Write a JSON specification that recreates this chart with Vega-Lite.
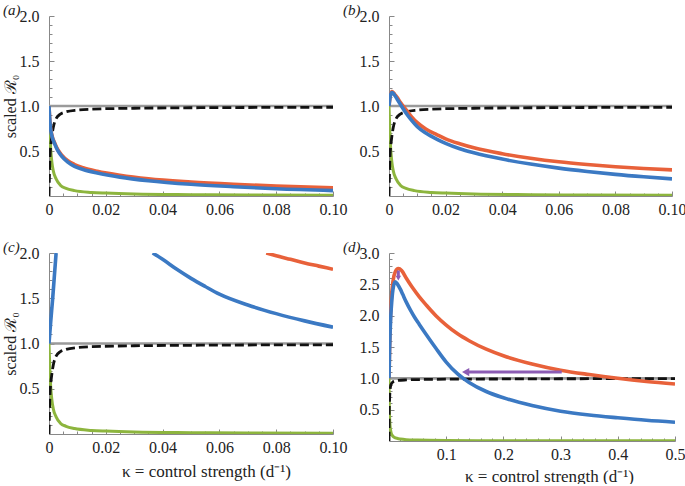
{
  "$schema": "https://vega.github.io/schema/vega-lite/v6.json",
  "padding": {"left": 2, "top": 3, "right": 0, "bottom": 0},
  "background": "white",
  "config": {
    "view": {"stroke": null},
    "font": "Liberation Serif",
    "axis": {
      "grid": false,
      "labelFont": "Liberation Serif",
      "labelFontSize": 16,
      "labelColor": "#222222",
      "labelFlush": false,
      "labelOverlap": false,
      "labelBound": false,
      "domainColor": "#888888",
      "domainWidth": 1,
      "tickColor": "#888888",
      "tickWidth": 1,
      "titleFont": "Liberation Serif",
      "titleFontSize": 16,
      "titleFontWeight": "normal",
      "titleColor": "#222222"
    },
    "line": {"interpolate": "monotone"}
  },
  "datasets": {
    "base01": [
      {"s": "gray", "k": 0, "v": 1}, {"s": "gray", "k": 0.1, "v": 1},
      {"s": "black", "k": 0, "v": 0}, {"s": "black", "k": 0.0003, "v": 0.4}, {"s": "black", "k": 0.0007, "v": 0.58}, {"s": "black", "k": 0.001, "v": 0.66}, {"s": "black", "k": 0.0015, "v": 0.76}, {"s": "black", "k": 0.0025, "v": 0.86}, {"s": "black", "k": 0.004, "v": 0.91}, {"s": "black", "k": 0.006, "v": 0.935}, {"s": "black", "k": 0.01, "v": 0.955}, {"s": "black", "k": 0.015, "v": 0.965}, {"s": "black", "k": 0.03, "v": 0.975}, {"s": "black", "k": 0.06, "v": 0.982}, {"s": "black", "k": 0.1, "v": 0.986},
      {"s": "green", "k": 0, "v": 1}, {"s": "green", "k": 0.0003, "v": 0.72}, {"s": "green", "k": 0.0006, "v": 0.52}, {"s": "green", "k": 0.001, "v": 0.38}, {"s": "green", "k": 0.0015, "v": 0.28}, {"s": "green", "k": 0.0025, "v": 0.19}, {"s": "green", "k": 0.004, "v": 0.12}, {"s": "green", "k": 0.006, "v": 0.085}, {"s": "green", "k": 0.009, "v": 0.06}, {"s": "green", "k": 0.015, "v": 0.04}, {"s": "green", "k": 0.02, "v": 0.032}, {"s": "green", "k": 0.03, "v": 0.022}, {"s": "green", "k": 0.05, "v": 0.015}, {"s": "green", "k": 0.07, "v": 0.011}, {"s": "green", "k": 0.1, "v": 0.008}
    ],
    "base05": [
      {"s": "gray", "k": 0, "v": 1}, {"s": "gray", "k": 0.5, "v": 1},
      {"s": "black", "k": 0, "v": 0}, {"s": "black", "k": 0.0003, "v": 0.4}, {"s": "black", "k": 0.0007, "v": 0.58}, {"s": "black", "k": 0.001, "v": 0.66}, {"s": "black", "k": 0.0015, "v": 0.76}, {"s": "black", "k": 0.0025, "v": 0.86}, {"s": "black", "k": 0.004, "v": 0.91}, {"s": "black", "k": 0.006, "v": 0.935}, {"s": "black", "k": 0.01, "v": 0.955}, {"s": "black", "k": 0.015, "v": 0.965}, {"s": "black", "k": 0.03, "v": 0.975}, {"s": "black", "k": 0.06, "v": 0.982}, {"s": "black", "k": 0.1, "v": 0.986}, {"s": "black", "k": 0.2, "v": 0.99}, {"s": "black", "k": 0.3, "v": 0.993}, {"s": "black", "k": 0.5, "v": 0.995},
      {"s": "green", "k": 0, "v": 1}, {"s": "green", "k": 0.0003, "v": 0.72}, {"s": "green", "k": 0.0006, "v": 0.52}, {"s": "green", "k": 0.001, "v": 0.38}, {"s": "green", "k": 0.0015, "v": 0.28}, {"s": "green", "k": 0.0025, "v": 0.19}, {"s": "green", "k": 0.004, "v": 0.12}, {"s": "green", "k": 0.006, "v": 0.085}, {"s": "green", "k": 0.009, "v": 0.06}, {"s": "green", "k": 0.015, "v": 0.04}, {"s": "green", "k": 0.02, "v": 0.032}, {"s": "green", "k": 0.03, "v": 0.022}, {"s": "green", "k": 0.05, "v": 0.015}, {"s": "green", "k": 0.07, "v": 0.011}, {"s": "green", "k": 0.1, "v": 0.008}, {"s": "green", "k": 0.2, "v": 0.005}, {"s": "green", "k": 0.3, "v": 0.004}, {"s": "green", "k": 0.5, "v": 0.003}
    ],
    "a": [
      {"s": "blue", "k": 0, "v": 1}, {"s": "blue", "k": 0.0002, "v": 0.88}, {"s": "blue", "k": 0.0005, "v": 0.76}, {"s": "blue", "k": 0.001, "v": 0.67}, {"s": "blue", "k": 0.002, "v": 0.58}, {"s": "blue", "k": 0.003, "v": 0.51}, {"s": "blue", "k": 0.0045, "v": 0.44}, {"s": "blue", "k": 0.0065, "v": 0.38}, {"s": "blue", "k": 0.009, "v": 0.33}, {"s": "blue", "k": 0.012, "v": 0.295}, {"s": "blue", "k": 0.017, "v": 0.256}, {"s": "blue", "k": 0.025, "v": 0.21}, {"s": "blue", "k": 0.035, "v": 0.17}, {"s": "blue", "k": 0.05, "v": 0.13}, {"s": "blue", "k": 0.065, "v": 0.103}, {"s": "blue", "k": 0.08, "v": 0.08}, {"s": "blue", "k": 0.1, "v": 0.06},
      {"s": "orange", "k": 0, "v": 1}, {"s": "orange", "k": 0.0002, "v": 0.88}, {"s": "orange", "k": 0.0005, "v": 0.77}, {"s": "orange", "k": 0.001, "v": 0.68}, {"s": "orange", "k": 0.002, "v": 0.59}, {"s": "orange", "k": 0.003, "v": 0.52}, {"s": "orange", "k": 0.0045, "v": 0.455}, {"s": "orange", "k": 0.0065, "v": 0.395}, {"s": "orange", "k": 0.009, "v": 0.35}, {"s": "orange", "k": 0.012, "v": 0.315}, {"s": "orange", "k": 0.017, "v": 0.275}, {"s": "orange", "k": 0.025, "v": 0.23}, {"s": "orange", "k": 0.035, "v": 0.19}, {"s": "orange", "k": 0.05, "v": 0.155}, {"s": "orange", "k": 0.065, "v": 0.13}, {"s": "orange", "k": 0.08, "v": 0.11}, {"s": "orange", "k": 0.1, "v": 0.09}
    ],
    "b": [
      {"s": "blue", "k": 0, "v": 1}, {"s": "blue", "k": 0.0003, "v": 1.08}, {"s": "blue", "k": 0.0006, "v": 1.13}, {"s": "blue", "k": 0.001, "v": 1.15}, {"s": "blue", "k": 0.0015, "v": 1.14}, {"s": "blue", "k": 0.002, "v": 1.12}, {"s": "blue", "k": 0.003, "v": 1.07}, {"s": "blue", "k": 0.004, "v": 1.02}, {"s": "blue", "k": 0.005, "v": 0.97}, {"s": "blue", "k": 0.0065, "v": 0.9}, {"s": "blue", "k": 0.008, "v": 0.84}, {"s": "blue", "k": 0.01, "v": 0.77}, {"s": "blue", "k": 0.013, "v": 0.7}, {"s": "blue", "k": 0.017, "v": 0.63}, {"s": "blue", "k": 0.02, "v": 0.585}, {"s": "blue", "k": 0.025, "v": 0.525}, {"s": "blue", "k": 0.03, "v": 0.48}, {"s": "blue", "k": 0.04, "v": 0.41}, {"s": "blue", "k": 0.05, "v": 0.355}, {"s": "blue", "k": 0.06, "v": 0.31}, {"s": "blue", "k": 0.07, "v": 0.273}, {"s": "blue", "k": 0.08, "v": 0.24}, {"s": "blue", "k": 0.09, "v": 0.213}, {"s": "blue", "k": 0.1, "v": 0.19},
      {"s": "orange", "k": 0, "v": 1}, {"s": "orange", "k": 0.0003, "v": 1.08}, {"s": "orange", "k": 0.0006, "v": 1.13}, {"s": "orange", "k": 0.001, "v": 1.16}, {"s": "orange", "k": 0.0015, "v": 1.15}, {"s": "orange", "k": 0.002, "v": 1.13}, {"s": "orange", "k": 0.003, "v": 1.09}, {"s": "orange", "k": 0.004, "v": 1.04}, {"s": "orange", "k": 0.005, "v": 1.0}, {"s": "orange", "k": 0.0065, "v": 0.94}, {"s": "orange", "k": 0.008, "v": 0.88}, {"s": "orange", "k": 0.01, "v": 0.815}, {"s": "orange", "k": 0.013, "v": 0.745}, {"s": "orange", "k": 0.017, "v": 0.68}, {"s": "orange", "k": 0.02, "v": 0.635}, {"s": "orange", "k": 0.025, "v": 0.58}, {"s": "orange", "k": 0.03, "v": 0.535}, {"s": "orange", "k": 0.04, "v": 0.47}, {"s": "orange", "k": 0.05, "v": 0.42}, {"s": "orange", "k": 0.06, "v": 0.38}, {"s": "orange", "k": 0.07, "v": 0.35}, {"s": "orange", "k": 0.08, "v": 0.325}, {"s": "orange", "k": 0.09, "v": 0.305}, {"s": "orange", "k": 0.1, "v": 0.29}
    ],
    "c": [
      {"s": "blue", "g": 1, "k": 0, "v": 1}, {"s": "blue", "g": 1, "k": 0.0006, "v": 1.24}, {"s": "blue", "g": 1, "k": 0.0013, "v": 1.5}, {"s": "blue", "g": 1, "k": 0.0019, "v": 1.75}, {"s": "blue", "g": 1, "k": 0.0025, "v": 2.0},
      {"s": "blue", "g": 2, "k": 0.0365, "v": 2.0}, {"s": "blue", "g": 2, "k": 0.04, "v": 1.93}, {"s": "blue", "g": 2, "k": 0.045, "v": 1.82}, {"s": "blue", "g": 2, "k": 0.05, "v": 1.72}, {"s": "blue", "g": 2, "k": 0.055, "v": 1.63}, {"s": "blue", "g": 2, "k": 0.06, "v": 1.545}, {"s": "blue", "g": 2, "k": 0.07, "v": 1.425}, {"s": "blue", "g": 2, "k": 0.08, "v": 1.33}, {"s": "blue", "g": 2, "k": 0.09, "v": 1.25}, {"s": "blue", "g": 2, "k": 0.1, "v": 1.18},
      {"s": "orange", "g": 1, "k": 0.0765, "v": 2.0}, {"s": "orange", "g": 1, "k": 0.08, "v": 1.97}, {"s": "orange", "g": 1, "k": 0.085, "v": 1.93}, {"s": "orange", "g": 1, "k": 0.09, "v": 1.89}, {"s": "orange", "g": 1, "k": 0.095, "v": 1.855}, {"s": "orange", "g": 1, "k": 0.1, "v": 1.82}
    ],
    "d": [
      {"s": "blue", "k": 0, "v": 1}, {"s": "blue", "k": 0.001, "v": 1.45}, {"s": "blue", "k": 0.002, "v": 1.75}, {"s": "blue", "k": 0.003, "v": 1.97}, {"s": "blue", "k": 0.005, "v": 2.25}, {"s": "blue", "k": 0.0075, "v": 2.45}, {"s": "blue", "k": 0.011, "v": 2.54}, {"s": "blue", "k": 0.015, "v": 2.5}, {"s": "blue", "k": 0.02, "v": 2.42}, {"s": "blue", "k": 0.024, "v": 2.34}, {"s": "blue", "k": 0.03, "v": 2.22}, {"s": "blue", "k": 0.038, "v": 2.08}, {"s": "blue", "k": 0.045, "v": 1.97}, {"s": "blue", "k": 0.053, "v": 1.86}, {"s": "blue", "k": 0.065, "v": 1.7}, {"s": "blue", "k": 0.082, "v": 1.48}, {"s": "blue", "k": 0.1, "v": 1.26}, {"s": "blue", "k": 0.12, "v": 1.07}, {"s": "blue", "k": 0.14, "v": 0.935}, {"s": "blue", "k": 0.17, "v": 0.79}, {"s": "blue", "k": 0.2, "v": 0.69}, {"s": "blue", "k": 0.25, "v": 0.565}, {"s": "blue", "k": 0.3, "v": 0.475}, {"s": "blue", "k": 0.35, "v": 0.415}, {"s": "blue", "k": 0.4, "v": 0.37}, {"s": "blue", "k": 0.45, "v": 0.33}, {"s": "blue", "k": 0.5, "v": 0.3},
      {"s": "orange", "k": 0, "v": 1}, {"s": "orange", "k": 0.001, "v": 1.5}, {"s": "orange", "k": 0.002, "v": 1.85}, {"s": "orange", "k": 0.004, "v": 2.25}, {"s": "orange", "k": 0.007, "v": 2.55}, {"s": "orange", "k": 0.011, "v": 2.7}, {"s": "orange", "k": 0.0163, "v": 2.75}, {"s": "orange", "k": 0.022, "v": 2.72}, {"s": "orange", "k": 0.03, "v": 2.6}, {"s": "orange", "k": 0.04, "v": 2.46}, {"s": "orange", "k": 0.053, "v": 2.3}, {"s": "orange", "k": 0.065, "v": 2.17}, {"s": "orange", "k": 0.082, "v": 2.0}, {"s": "orange", "k": 0.1, "v": 1.85}, {"s": "orange", "k": 0.12, "v": 1.71}, {"s": "orange", "k": 0.14, "v": 1.6}, {"s": "orange", "k": 0.17, "v": 1.465}, {"s": "orange", "k": 0.2, "v": 1.36}, {"s": "orange", "k": 0.25, "v": 1.23}, {"s": "orange", "k": 0.3, "v": 1.13}, {"s": "orange", "k": 0.35, "v": 1.06}, {"s": "orange", "k": 0.4, "v": 1.0}, {"s": "orange", "k": 0.45, "v": 0.95}, {"s": "orange", "k": 0.5, "v": 0.91}
    ],
    "arrows": [
      {"id": "h", "k": 0.302, "v": 1.1}, {"id": "h", "k": 0.135, "v": 1.1},
      {"id": "v", "k": 0.0163, "v": 2.72}, {"id": "v", "k": 0.0163, "v": 2.63}
    ],
    "heads": [
      {"id": "h", "k": 0.134, "v": 1.1},
      {"id": "v", "k": 0.0163, "v": 2.6}
    ]
  },
  "columns": 2,
  "bounds": "flush",
  "spacing": {"row": 57, "column": 56},
  "concat": [
    {
      "width": 284, "height": 180,
      "title": {"text": "(a)", "font": "Liberation Serif", "fontSize": 15, "fontWeight": "normal", "fontStyle": "italic", "color": "#222222", "anchor": "start", "frame": "group", "offset": 0, "baseline": "middle", "dx": -46, "dy": 17},
      "encoding": {
        "x": {"field": "k", "type": "quantitative", "scale": {"domain": [0, 0.1], "nice": false, "zero": false},
          "axis": {"title": null, "values": [0,0.005,0.01,0.015,0.02,0.025,0.03,0.035,0.04,0.045,0.05,0.055,0.06,0.065,0.07,0.075,0.08,0.085,0.09,0.095,0.1],
            "labelExpr": "round(datum.value*1000) % 20 == 0 ? (datum.value == 0 ? '0' : format(datum.value, '.2f')) : ''",
            "tickSize": {"condition": {"test": "round(datum.value*1000) % 20 == 0", "value": -5}, "value": -3},
            "labelPadding": 10, "labelFont": "Liberation Serif", "labelFontSize": 16}},
        "y": {"field": "v", "type": "quantitative", "scale": {"domain": [0, 2], "nice": false},
          "axis": {"title": "scaled ℛ₀", "titleFont": "Liberation Serif", "titleFontSize": 16, "titleFontWeight": "normal", "titlePadding": 1, "values": [0.1,0.2,0.3,0.4,0.5,0.6,0.7,0.8,0.9,1.0,1.1,1.2,1.3,1.4,1.5,1.6,1.7,1.8,1.9,2.0],
            "labelExpr": "round(datum.value*10) % 5 == 0 ? format(datum.value, '.1f') : ''",
            "tickSize": {"condition": {"test": "round(datum.value*10) % 5 == 0", "value": -5}, "value": -3},
            "labelPadding": 15, "labelFont": "Liberation Serif", "labelFontSize": 16}},
        "detail": {"field": "g", "type": "nominal"}
      },
      "layer": [
        {"data": {"name": "base01"}, "transform": [{"filter": "datum.s == 'gray'"}], "mark": {"type": "line", "color": "#9a9a9a", "strokeWidth": 2.6, "clip": true}},
        {"data": {"name": "base01"}, "transform": [{"filter": "datum.s == 'green'"}], "mark": {"type": "line", "color": "#8db53e", "strokeWidth": 3, "clip": true}},
        {"data": {"name": "base01"}, "transform": [{"filter": "datum.s == 'black'"}], "mark": {"type": "line", "color": "#111111", "strokeWidth": 2.8, "strokeDash": [9, 4], "clip": true}},
        {"data": {"name": "a"}, "transform": [{"filter": "datum.s == 'orange'"}], "mark": {"type": "line", "color": "#e8613a", "strokeWidth": 3.6, "clip": true}},
        {"data": {"name": "a"}, "transform": [{"filter": "datum.s == 'blue'"}], "mark": {"type": "line", "color": "#3b79c3", "strokeWidth": 3.6, "clip": true}}
      ]
    },
    {
      "width": 283, "height": 180,
      "title": {"text": "(b)", "font": "Liberation Serif", "fontSize": 15, "fontWeight": "normal", "fontStyle": "italic", "color": "#222222", "anchor": "start", "frame": "group", "offset": 0, "baseline": "middle", "dx": -46, "dy": 17},
      "encoding": {
        "x": {"field": "k", "type": "quantitative", "scale": {"domain": [0, 0.1], "nice": false, "zero": false},
          "axis": {"title": null, "values": [0,0.005,0.01,0.015,0.02,0.025,0.03,0.035,0.04,0.045,0.05,0.055,0.06,0.065,0.07,0.075,0.08,0.085,0.09,0.095,0.1],
            "labelExpr": "round(datum.value*1000) % 20 == 0 ? (datum.value == 0 ? '0' : format(datum.value, '.2f')) : ''",
            "tickSize": {"condition": {"test": "round(datum.value*1000) % 20 == 0", "value": -5}, "value": -3},
            "labelPadding": 10, "labelFont": "Liberation Serif", "labelFontSize": 16}},
        "y": {"field": "v", "type": "quantitative", "scale": {"domain": [0, 2], "nice": false},
          "axis": {"title": null, "values": [0.1,0.2,0.3,0.4,0.5,0.6,0.7,0.8,0.9,1.0,1.1,1.2,1.3,1.4,1.5,1.6,1.7,1.8,1.9,2.0],
            "labelExpr": "round(datum.value*10) % 5 == 0 ? format(datum.value, '.1f') : ''",
            "tickSize": {"condition": {"test": "round(datum.value*10) % 5 == 0", "value": -5}, "value": -3},
            "labelPadding": 15, "labelFont": "Liberation Serif", "labelFontSize": 16}},
        "detail": {"field": "g", "type": "nominal"}
      },
      "layer": [
        {"data": {"name": "base01"}, "transform": [{"filter": "datum.s == 'gray'"}], "mark": {"type": "line", "color": "#9a9a9a", "strokeWidth": 2.6, "clip": true}},
        {"data": {"name": "base01"}, "transform": [{"filter": "datum.s == 'green'"}], "mark": {"type": "line", "color": "#8db53e", "strokeWidth": 3, "clip": true}},
        {"data": {"name": "base01"}, "transform": [{"filter": "datum.s == 'black'"}], "mark": {"type": "line", "color": "#111111", "strokeWidth": 2.8, "strokeDash": [9, 4], "clip": true}},
        {"data": {"name": "b"}, "transform": [{"filter": "datum.s == 'orange'"}], "mark": {"type": "line", "color": "#e8613a", "strokeWidth": 3.6, "clip": true}},
        {"data": {"name": "b"}, "transform": [{"filter": "datum.s == 'blue'"}], "mark": {"type": "line", "color": "#3b79c3", "strokeWidth": 3.6, "clip": true}}
      ]
    },
    {
      "width": 284, "height": 181,
      "title": {"text": "(c)", "font": "Liberation Serif", "fontSize": 15, "fontWeight": "normal", "fontStyle": "italic", "color": "#222222", "anchor": "start", "frame": "group", "offset": 0, "baseline": "middle", "dx": -46, "dy": 17},
      "encoding": {
        "x": {"field": "k", "type": "quantitative", "scale": {"domain": [0, 0.1], "nice": false, "zero": false},
          "axis": {"title": "κ = control strength (d⁻¹)", "titleFont": "Liberation Serif", "titleFontSize": 17, "titleFontWeight": "normal", "titlePadding": 6, "titleX": 157, "values": [0,0.005,0.01,0.015,0.02,0.025,0.03,0.035,0.04,0.045,0.05,0.055,0.06,0.065,0.07,0.075,0.08,0.085,0.09,0.095,0.1],
            "labelExpr": "round(datum.value*1000) % 20 == 0 ? (datum.value == 0 ? '0' : format(datum.value, '.2f')) : ''",
            "tickSize": {"condition": {"test": "round(datum.value*1000) % 20 == 0", "value": -5}, "value": -3},
            "labelPadding": 10, "labelFont": "Liberation Serif", "labelFontSize": 16}},
        "y": {"field": "v", "type": "quantitative", "scale": {"domain": [0, 2], "nice": false},
          "axis": {"title": "scaled ℛ₀", "titleFont": "Liberation Serif", "titleFontSize": 16, "titleFontWeight": "normal", "titlePadding": 1, "values": [0.1,0.2,0.3,0.4,0.5,0.6,0.7,0.8,0.9,1.0,1.1,1.2,1.3,1.4,1.5,1.6,1.7,1.8,1.9,2.0],
            "labelExpr": "round(datum.value*10) % 5 == 0 ? format(datum.value, '.1f') : ''",
            "tickSize": {"condition": {"test": "round(datum.value*10) % 5 == 0", "value": -5}, "value": -3},
            "labelPadding": 15, "labelFont": "Liberation Serif", "labelFontSize": 16}},
        "detail": {"field": "g", "type": "nominal"}
      },
      "layer": [
        {"data": {"name": "base01"}, "transform": [{"filter": "datum.s == 'gray'"}], "mark": {"type": "line", "color": "#9a9a9a", "strokeWidth": 2.6, "clip": true}},
        {"data": {"name": "base01"}, "transform": [{"filter": "datum.s == 'green'"}], "mark": {"type": "line", "color": "#8db53e", "strokeWidth": 3, "clip": true}},
        {"data": {"name": "base01"}, "transform": [{"filter": "datum.s == 'black'"}], "mark": {"type": "line", "color": "#111111", "strokeWidth": 2.8, "strokeDash": [9, 4], "clip": true}},
        {"data": {"name": "c"}, "transform": [{"filter": "datum.s == 'orange'"}], "mark": {"type": "line", "color": "#e8613a", "strokeWidth": 3.6, "clip": true}},
        {"data": {"name": "c"}, "transform": [{"filter": "datum.s == 'blue'"}], "mark": {"type": "line", "color": "#3b79c3", "strokeWidth": 3.6, "clip": true}}
      ]
    },
    {
      "width": 286, "height": 188,
      "title": {"text": "(d)", "font": "Liberation Serif", "fontSize": 15, "fontWeight": "normal", "fontStyle": "italic", "color": "#222222", "anchor": "start", "frame": "group", "offset": 0, "baseline": "middle", "dx": -46, "dy": 17},
      "encoding": {
        "x": {"field": "k", "type": "quantitative", "scale": {"domain": [0, 0.5], "nice": false, "zero": false},
          "axis": {"title": "κ = control strength (d⁻¹)", "titleFont": "Liberation Serif", "titleFontSize": 17, "titleFontWeight": "normal", "titlePadding": 4, "titleX": 160, "values": [0.02,0.04,0.06,0.08,0.1,0.12,0.14,0.16,0.18,0.2,0.22,0.24,0.26,0.28,0.3,0.32,0.34,0.36,0.38,0.4,0.42,0.44,0.46,0.48,0.5],
            "labelExpr": "round(datum.value*100) % 10 == 0 ? format(datum.value, '.1f') : ''",
            "tickSize": {"condition": {"test": "round(datum.value*100) % 10 == 0", "value": -5}, "value": -3},
            "labelPadding": 10, "labelFont": "Liberation Serif", "labelFontSize": 16}},
        "y": {"field": "v", "type": "quantitative", "scale": {"domain": [0, 3], "nice": false},
          "axis": {"title": null, "values": [0.1,0.2,0.3,0.4,0.5,0.6,0.7,0.8,0.9,1.0,1.1,1.2,1.3,1.4,1.5,1.6,1.7,1.8,1.9,2.0,2.1,2.2,2.3,2.4,2.5,2.6,2.7,2.8,2.9,3.0],
            "labelExpr": "round(datum.value*10) % 5 == 0 ? format(datum.value, '.1f') : ''",
            "tickSize": {"condition": {"test": "round(datum.value*10) % 5 == 0", "value": -5}, "value": -3},
            "labelPadding": 15, "labelFont": "Liberation Serif", "labelFontSize": 16}},
        "detail": {"field": "g", "type": "nominal"}
      },
      "layer": [
        {"data": {"name": "base05"}, "transform": [{"filter": "datum.s == 'gray'"}], "mark": {"type": "line", "color": "#9a9a9a", "strokeWidth": 2.6, "clip": true}},
        {"data": {"name": "base05"}, "transform": [{"filter": "datum.s == 'green'"}], "mark": {"type": "line", "color": "#8db53e", "strokeWidth": 3, "clip": true}},
        {"data": {"name": "base05"}, "transform": [{"filter": "datum.s == 'black'"}], "mark": {"type": "line", "color": "#111111", "strokeWidth": 2.8, "strokeDash": [9, 4], "clip": true}},
        {"data": {"name": "d"}, "transform": [{"filter": "datum.s == 'orange'"}], "mark": {"type": "line", "color": "#e8613a", "strokeWidth": 3.6, "clip": true}},
        {"data": {"name": "d"}, "transform": [{"filter": "datum.s == 'blue'"}], "mark": {"type": "line", "color": "#3b79c3", "strokeWidth": 3.6, "clip": true}},
        {"data": {"name": "arrows"}, "mark": {"type": "line", "interpolate": "linear", "color": "#8c5cb4", "strokeWidth": 3}, "encoding": {"detail": {"field": "id", "type": "nominal"}}},
        {"data": {"name": "heads"}, "transform": [{"filter": "datum.id == 'h'"}], "mark": {"type": "point", "shape": "triangle-left", "filled": true, "color": "#8c5cb4", "size": 70, "opacity": 1}},
        {"data": {"name": "heads"}, "transform": [{"filter": "datum.id == 'v'"}], "mark": {"type": "point", "shape": "triangle-down", "filled": true, "color": "#8c5cb4", "size": 30, "opacity": 1}}
      ]
    }
  ]
}
